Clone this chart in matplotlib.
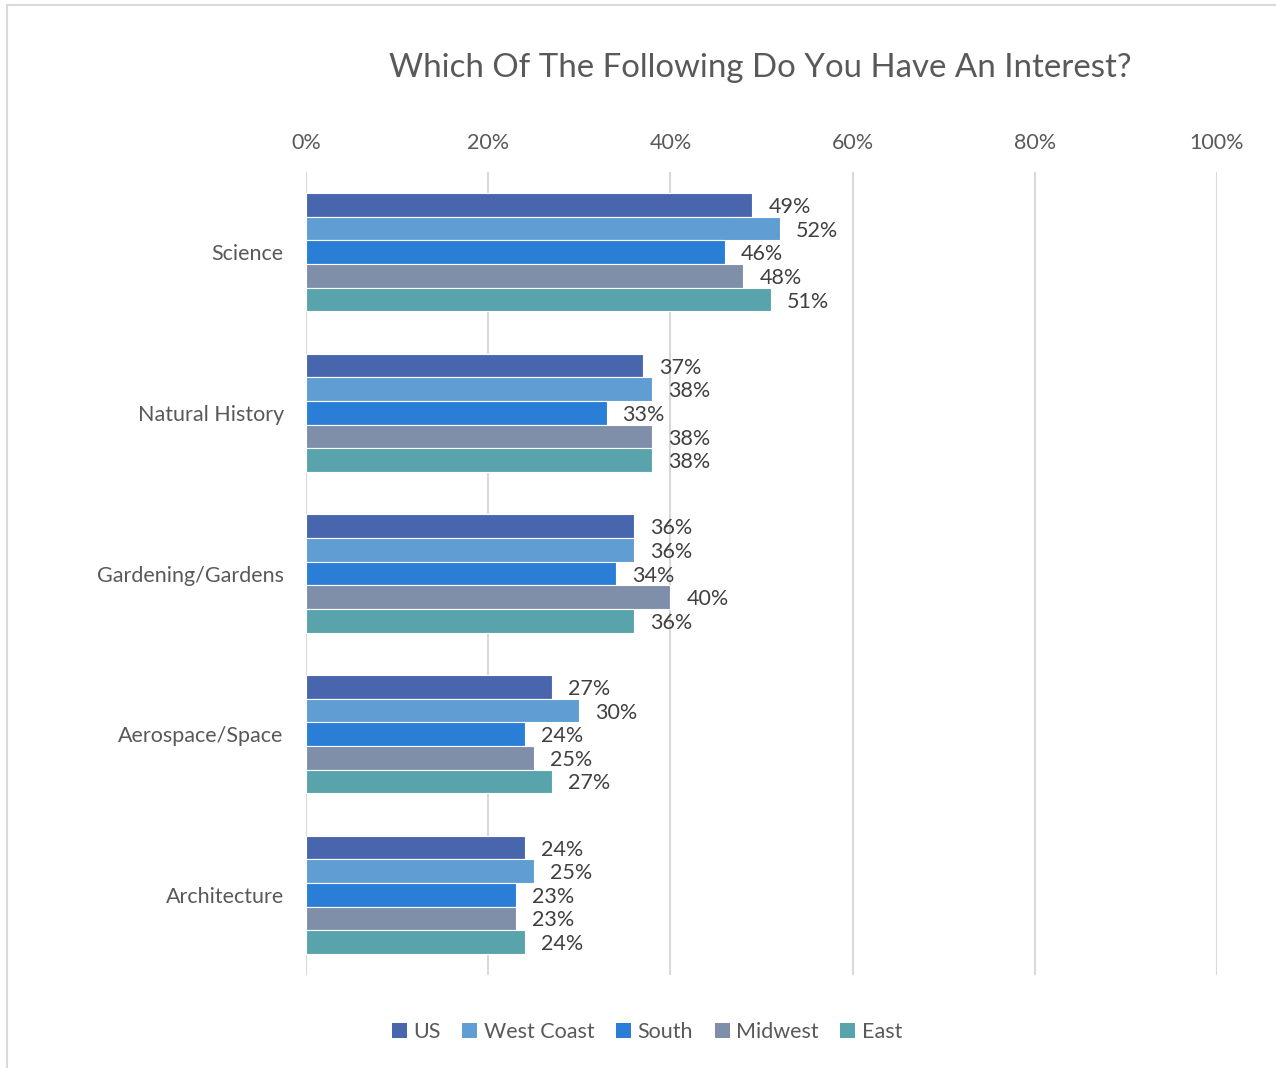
import numpy as np
import matplotlib.pyplot as plt
from matplotlib.patches import Patch

plt.rcParams['font.family'] = ['Lato', 'DejaVu Sans']

# 调查数据 (百分比)
categories = ['Science', 'Natural History', 'Gardening/Gardens', 'Aerospace/Space', 'Architecture']
regions = ['US', 'West Coast', 'South', 'Midwest', 'East']
us = [49, 37, 36, 27, 24]
west_coast = [52, 38, 36, 30, 25]
south = [46, 33, 34, 24, 23]
midwest = [48, 38, 40, 25, 23]
east = [51, 38, 36, 27, 24]
ticks = [0, 20, 40, 60, 80, 100]

colors = ['#4865AE', '#5F9DD2', '#2A7ED6', '#7F8EA9', '#58A3AC']
series = [us, west_coast, south, midwest, east]

fig = plt.figure(figsize=(12.76, 10.68), dpi=100)
ax = fig.add_axes([306 / 1276, 1 - 975 / 1068, (1217 - 306) / 1276, (975 - 172) / 1068])

y = np.arange(len(categories))
group = 0.735
h = group / len(series)
text_color = '#595959'

for i, (vals, c) in enumerate(zip(series, colors)):
    pos = y - group / 2 + h * (i + 0.5)
    ax.barh(pos, vals, height=h, color=c, edgecolor='white', linewidth=0.8, zorder=3)
    for p, v in zip(pos, vals):
        ax.annotate(f'{v}%', (v, p), xytext=(11.5, -1.5), textcoords='offset points',
                    va='center', ha='left', fontsize=15.5, color='#404040')

ax.set_xlim(0, 100)
ax.set_ylim(len(categories) - 0.5, -0.5)
ax.set_xticks(ticks)
ax.set_xticklabels([f'{t}%' for t in ticks], fontsize=15.5, color=text_color)
ax.xaxis.tick_top()
ax.tick_params(axis='x', length=0, pad=14)
ax.set_yticks(y)
ax.set_yticklabels(categories, fontsize=15.5, color=text_color)
ax.tick_params(axis='y', length=0, pad=16)
ax.grid(axis='x', color='#D9D9D9', linewidth=1.5, zorder=0)
for s in ax.spines.values():
    s.set_visible(False)

fig.text(760 / 1276, 1 - 68 / 1068, 'Which Of The Following Do You Have An Interest?',
         ha='center', va='center', fontsize=23.8, color=text_color)

handles = [Patch(facecolor=c, edgecolor='none') for c in colors]
fig.legend(handles, regions, loc='center', bbox_to_anchor=(647 / 1276, 1 - 1032 / 1068),
           ncol=5, frameon=False, fontsize=15.5, handlelength=0.7, handleheight=0.7,
           handletextpad=0.3, columnspacing=1.0, labelcolor=text_color)

# 外框
fig.add_artist(plt.Line2D([7 / 1276, 7 / 1276], [0, 1 - 5 / 1068], color='#D9D9D9', lw=1.5))
fig.add_artist(plt.Line2D([7 / 1276, 1], [1 - 5 / 1068, 1 - 5 / 1068], color='#D9D9D9', lw=1.5))

fig.savefig('out.png', dpi=100)
